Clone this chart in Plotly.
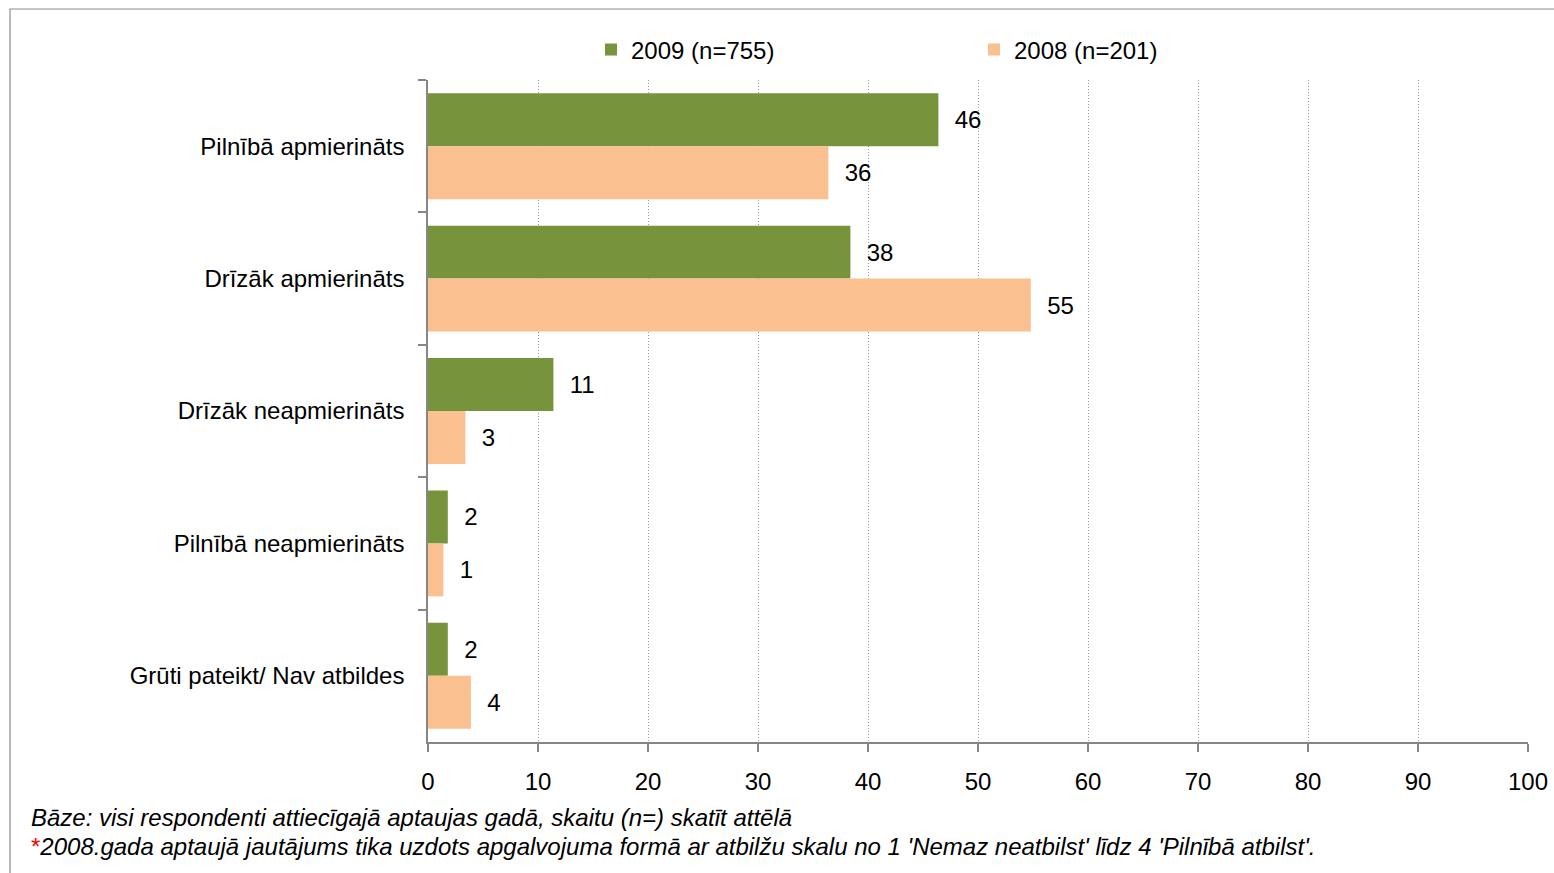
import plotly.graph_objects as go

# Survey answers (percent of respondents)
categories = [
    "Pilnībā apmierināts",
    "Drīzāk apmierināts",
    "Drīzāk neapmierināts",
    "Pilnībā neapmierināts",
    "Grūti pateikt/ Nav atbildes",
]
values_2009 = [46.4, 38.4, 11.4, 1.8, 1.8]
values_2008 = [36.4, 54.8, 3.4, 1.4, 3.9]
series_names = ["2009 (n=755)", "2008 (n=201)"]
x_ticks = [0, 10, 20, 30, 40, 50, 60, 70, 80, 90, 100]

footnote_1 = "<i>Bāze: visi respondenti attiecīgajā aptaujas gadā, skaitu (n=) skatīt attēlā</i>"
footnote_2 = ("<span style='color:#FF0000'>*</span><i>2008.gada aptaujā jautājums tika uzdots "
              "apgalvojuma formā ar atbilžu skalu no 1 'Nemaz neatbilst' līdz 4 'Pilnībā atbilst'.</i>")

FONT = "Liberation Sans, Arial, sans-serif"
FS = 24
GREEN = "#77933C"
PEACH = "#FAC090"
AXIS_GREY = "#868686"

W, H = 1554, 873
ML, MR, MT, MB = 428, 26, 80, 131
PW, PH = W - ML - MR, H - MT - MB


def px_x(px):
    return (px - ML) / PW


def px_y(py):
    return (H - MB - py) / PH


fig = go.Figure()
for name, vals, col in [(series_names[0], values_2009, GREEN), (series_names[1], values_2008, PEACH)]:
    fig.add_trace(go.Bar(
        y=categories, x=vals, name=name, orientation="h",
        marker=dict(color=col, line=dict(width=0)),
        texttemplate="\u00a0\u00a0%{x:.0f}", textposition="outside",
        textfont=dict(family=FONT, size=FS, color="#000000"),
        cliponaxis=False,
    ))

fig.update_layout(
    width=W, height=H,
    margin=dict(l=ML, r=MR, t=MT, b=MB, autoexpand=False),
    paper_bgcolor="white", plot_bgcolor="white",
    barmode="group", bargap=0.2, bargroupgap=0,
    font=dict(family=FONT, size=FS, color="#000000"),
    showlegend=True,
    legend=dict(
        orientation="h", x=px_x(591), xanchor="left", y=px_y(50), yanchor="middle",
        font=dict(family=FONT, size=FS, color="#000000"),
        entrywidth=338, entrywidthmode="pixels",
        bgcolor="rgba(0,0,0,0)",
    ),
    xaxis=dict(
        range=[0, 100], tickvals=x_ticks, ticktext=[str(t) for t in x_ticks],
        showline=True, linecolor=AXIS_GREY, linewidth=1.5,
        ticks="outside", ticklen=8, tickcolor=AXIS_GREY, tickwidth=1.5,
        showgrid=True, gridcolor="#9A9A9A", gridwidth=1, griddash="1px,2px",
        zeroline=False, ticklabelstandoff=9, automargin=False,
        tickfont=dict(family=FONT, size=FS, color="#000000"),
    ),
    yaxis=dict(
        autorange="reversed", type="category",
        showline=True, linecolor=AXIS_GREY, linewidth=1.5,
        ticks="outside", ticklen=8, tickcolor=AXIS_GREY, tickwidth=1.5,
        tickson="boundaries", showgrid=False, zeroline=False,
        ticklabelstandoff=17, automargin=False,
        tickfont=dict(family=FONT, size=FS, color="#000000"),
    ),
    shapes=[dict(
        type="rect", xref="paper", yref="paper",
        x0=px_x(10), x1=px_x(1600), y0=px_y(920), y1=px_y(9),
        line=dict(color="#8C8C8C", width=1.2), fillcolor="rgba(0,0,0,0)", layer="below",
    )],
    annotations=[
        dict(text=footnote_1, xref="paper", yref="paper", x=px_x(29), y=px_y(817),
             xanchor="left", yanchor="middle", showarrow=False,
             font=dict(family=FONT, size=FS, color="#000000")),
        dict(text=footnote_2, xref="paper", yref="paper", x=px_x(29), y=px_y(846),
             xanchor="left", yanchor="middle", showarrow=False,
             font=dict(family=FONT, size=FS, color="#000000")),
    ],
)

fig.write_html("out.html")
